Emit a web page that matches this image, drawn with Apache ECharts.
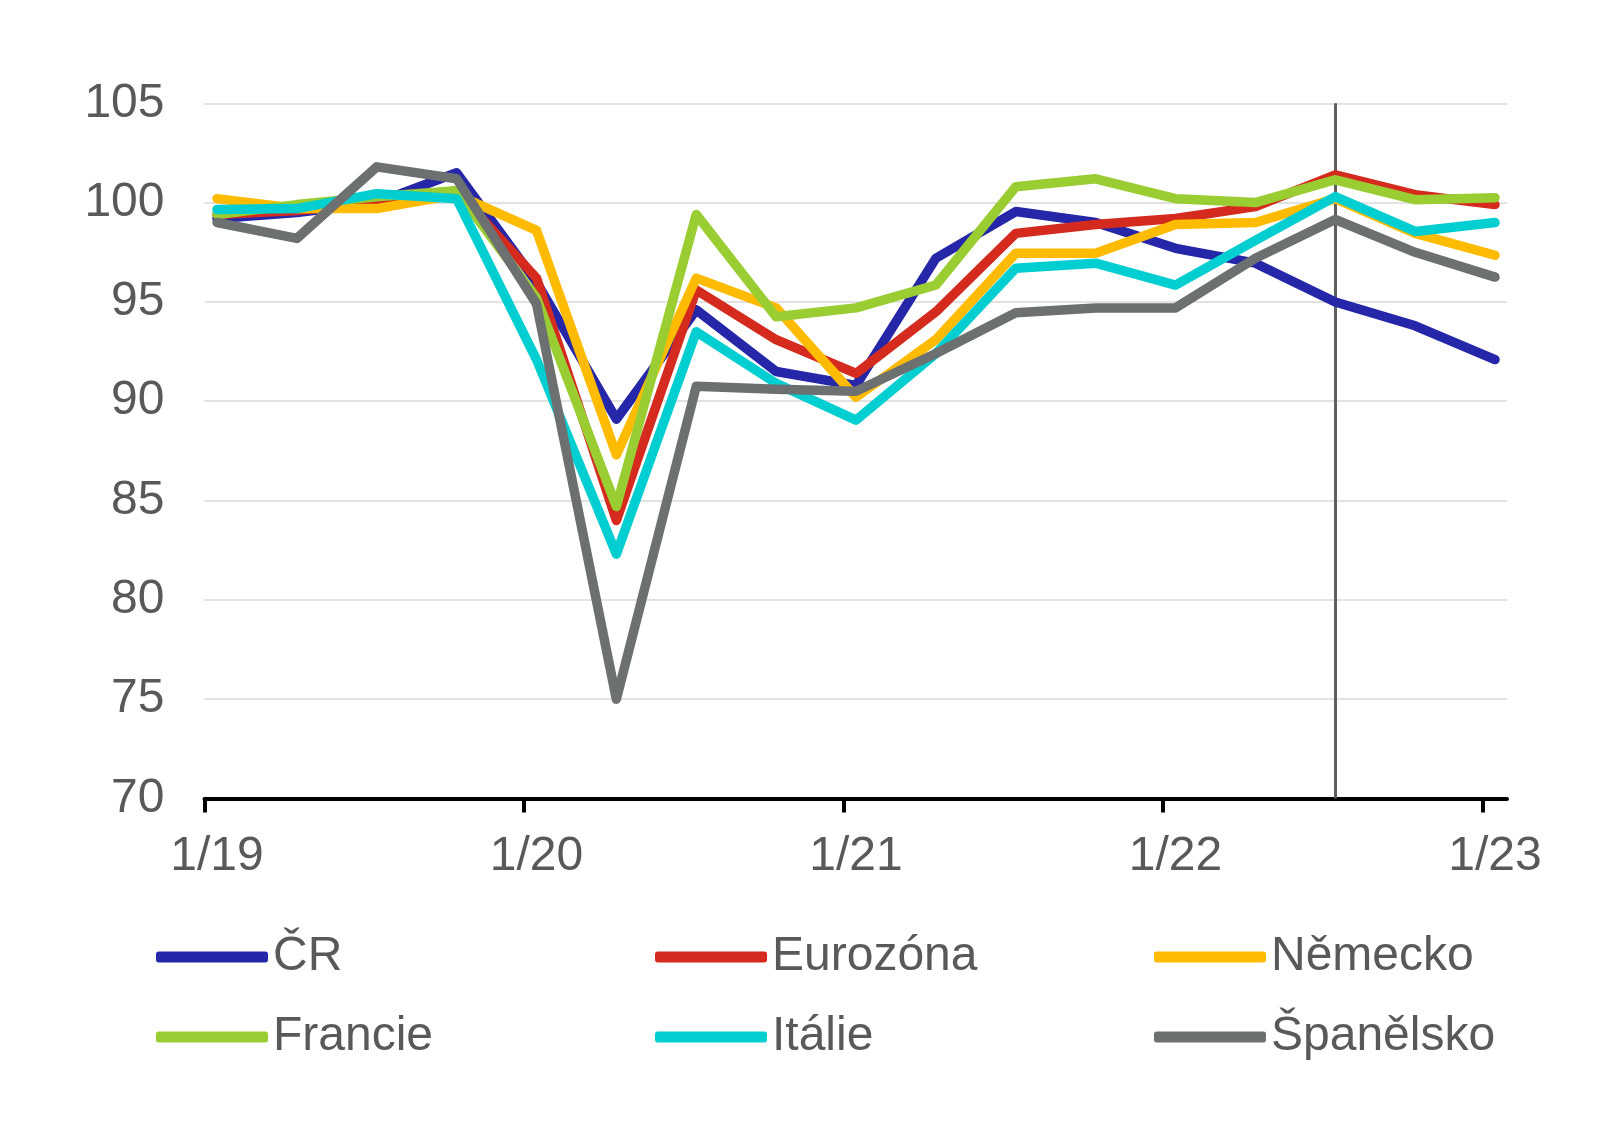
<!DOCTYPE html>
<html>
<head>
<meta charset="utf-8">
<script src="https://cdn.jsdelivr.net/npm/echarts@6/dist/echarts.min.js"></script>
<style>
html,body{margin:0;padding:0;background:#fff;}
#chart{width:1618px;height:1126px;}
</style>
</head>
<body>
<div id="chart"></div>
<script>
// Quarterly periods Q1 2019 .. Q1 2023
const periods = ['1/19','4/19','7/19','10/19','1/20','4/20','7/20','10/20','1/21','4/21','7/21','10/21','1/22','4/22','7/22','10/22','1/23'];
const tickLabels = ['1/19','1/20','1/21','1/22','1/23'];
const yTicks = [70, 75, 80, 85, 90, 95, 100, 105];

const seriesNames = ['ČR','Eurozóna','Německo','Francie','Itálie','Španělsko'];
const cr        = [99.2, 99.5, 100.0, 101.5, 96.0, 89.1, 94.6, 91.5, 90.8, 97.2, 99.55, 99.0, 97.7, 96.95, 95.0, 93.8, 92.1];
const eurozona  = [99.4, 99.6, 100.0, 100.6, 96.2, 84.0, 95.6, 93.1, 91.4, 94.5, 98.45, 98.9, 99.2, 99.8, 101.4, 100.4, 99.9];
const nemecko   = [100.2, 99.7, 99.7, 100.4, 98.6, 87.3, 96.2, 94.7, 90.2, 93.1, 97.45, 97.45, 98.9, 99.0, 100.2, 98.45, 97.35];
const francie   = [99.4, 99.9, 100.3, 100.6, 95.2, 84.7, 99.4, 94.25, 94.7, 95.85, 100.8, 101.2, 100.2, 100.0, 101.15, 100.15, 100.25];
const italie    = [99.65, 99.7, 100.45, 100.2, 92.1, 82.3, 93.5, 90.9, 89.05, 92.4, 96.7, 96.95, 95.85, 98.1, 100.3, 98.55, 99.0];
const spanelsko = [99.0, 98.2, 101.8, 101.2, 94.9, 75.0, 90.75, 90.6, 90.5, 92.4, 94.45, 94.7, 94.7, 97.2, 99.15, 97.5, 96.25];
const markerIndex = 14; // vertical line at 7/22

const colors = ['#2626A8','#D52B1E','#FFBB00','#9ACD32','#00CED1','#6D7070'];
const allData = [cr, eurozona, nemecko, francie, italie, spanelsko];

const FONT = '"Liberation Sans", Arial, sans-serif';
const TXT = '#595959';

const tickOffset = 0.1565;
const xMin = -tickOffset, xMax = 16.15;

const series = seriesNames.map((name, s) => ({
  name: name,
  type: 'line',
  data: allData[s].map((v, i) => [i, v]),
  symbol: 'none',
  color: colors[s],
  lineStyle: { width: 9.5, color: colors[s], cap: 'round', join: 'round' },
  z: 3 + s,
  animation: false,
  markLine: s === 0 ? {
    silent: true,
    symbol: ['none','none'],
    label: { show: false },
    lineStyle: { color: '#5f5f5f', width: 3, type: 'solid' },
    data: [{ xAxis: markerIndex }],
    z: 1
  } : undefined
}));

const legendCommon = {
  orient: 'vertical',
  top: 924,
  icon: 'roundRect',
  itemWidth: 112,
  itemHeight: 11,
  itemGap: 24,
  textStyle: { fontSize: 48, color: TXT, fontFamily: FONT, lineHeight: 56 },
  selectedMode: false
};

const option = {
  backgroundColor: '#ffffff',
  animation: false,
  grid: { left: 204.5, right: 111, top: 103.3, bottom: 327.5, containLabel: false },
  legend: [
    Object.assign({}, legendCommon, { left: 151, data: [seriesNames[0], seriesNames[3]] }),
    Object.assign({}, legendCommon, { left: 650, data: [seriesNames[1], seriesNames[4]] }),
    Object.assign({}, legendCommon, { left: 1149, data: [seriesNames[2], seriesNames[5]] })
  ],
  xAxis: {
    type: 'value',
    min: xMin,
    max: xMax,
    axisLine: { show: true, onZero: false, lineStyle: { color: '#000', width: 4 } },
    axisTick: {
      show: true, length: 14, inside: false,
      lineStyle: { color: '#000', width: 4 },
      customValues: [0, 4, 8, 12, 16].map(v => v - tickOffset)
    },
    axisLabel: {
      show: true,
      customValues: [0, 4, 8, 12, 16],
      formatter: function (v) { return tickLabels[Math.round(v / 4)]; },
      fontSize: 48, color: TXT, fontFamily: FONT, margin: 34
    },
    splitLine: { show: false }
  },
  yAxis: {
    type: 'value',
    min: yTicks[0],
    max: yTicks[yTicks.length - 1],
    interval: 5,
    axisLine: { show: false },
    axisTick: { show: false },
    axisLabel: { fontSize: 48, color: TXT, fontFamily: FONT, margin: 40 },
    splitLine: { show: true, lineStyle: { color: '#d9d9d9', width: 1.5 } }
  },
  series: series
};

const chart = echarts.init(document.getElementById('chart'), null, { renderer: 'canvas' });
chart.setOption(option);
</script>
</body>
</html>
